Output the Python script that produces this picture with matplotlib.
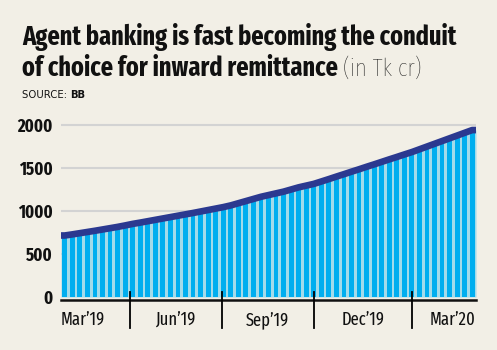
import matplotlib.pyplot as plt
import numpy as np

# weekly inward remittance via agent banking (Tk crore)
values = [715, 728, 742, 756, 770, 785, 800, 815, 832, 850,
          865, 881, 897, 913, 929, 945, 961, 977, 994, 1011, 1028, 1045,
          1065, 1090, 1115, 1140,
          1165, 1185, 1205, 1225, 1250, 1275, 1295, 1315,
          1343, 1371, 1400, 1428, 1457, 1485, 1514, 1542, 1571, 1600, 1628, 1657, 1685,
          1717, 1749, 1781, 1813, 1845, 1877, 1909, 1941]
month_labels = ["Mar\u201919", "Jun\u201919", "Sep\u201919", "Dec\u201919", "Mar\u201920"]
quarter_breaks = [8.6, 20.8, 33.0, 46.0]
yticks = [0, 500, 1000, 1500, 2000]

bg = '#f2efe6'
cond = ['Fira Sans Extra Condensed', 'Fira Sans Condensed', 'DejaVu Sans']
W, H = 497, 350

fig = plt.figure(figsize=(W/100, H/100), dpi=100, facecolor=bg)
ax = fig.add_axes([61/W, 1-300/H, 415/W, 180/H], facecolor=bg)

x = np.arange(len(values))
xx = np.r_[-0.5, x, x[-1]+0.5]
yy = np.r_[values[0], values, values[-1]]
ax.fill_between(xx, 0, yy, color='#a3dbea', lw=0, zorder=1)
ax.bar(x, values, width=0.64, color='#00aeef', lw=0, zorder=2)
ax.plot(xx, yy, color='#2b3990', lw=4.8, solid_capstyle='butt', zorder=3)

ax.set_xlim(-0.5, len(values)-0.5)
ax.set_ylim(-35, 2058)
for v in yticks[1:]:
    ax.axhline(v, color='#d3d3d3', lw=1.5, zorder=0)
ax.set_yticks(yticks)
ax.set_yticklabels([str(v) for v in yticks], family=cond, fontweight='bold',
                   fontsize=13, color='#111111')
ax.tick_params(axis='y', length=0, pad=6)
ax.set_xticks([])
for s in ['top', 'right', 'left']:
    ax.spines[s].set_visible(False)
ax.spines['bottom'].set_linewidth(1.8)
ax.spines['bottom'].set_color('#111111')

# quarter dividers
trans = ax.get_xaxis_transform()
for b in quarter_breaks:
    ax.plot([b, b], [0.045, -0.155], color='black', lw=1.3, transform=trans,
            clip_on=False, zorder=4)

# month labels
edges = [-0.5] + quarter_breaks + [len(values)-0.5]
for i, lab in enumerate(month_labels):
    if i == 0:
        xp, ha = edges[0], 'left'
    elif i == len(month_labels)-1:
        xp, ha = edges[-1], 'right'
    else:
        xp, ha = (edges[i] + edges[i+1]) / 2, 'center'
    ax.text(xp, -0.11, lab, transform=trans, ha=ha, va='center',
            family=cond, fontsize=13, color='#111111')

# title, fitted to the reference width
t1 = fig.text(22/W, 1-45/H, "Agent banking is fast becoming the conduit",
              family=cond, fontweight='bold', fontsize=18, va='baseline', color='#111111')
fig.canvas.draw()
r = fig.canvas.get_renderer()
fs = 18 * 436 / t1.get_window_extent(r).width
t1.set_fontsize(fs)
t2 = fig.text(22/W, 1-76/H, "of choice for inward remittance",
              family=cond, fontweight='bold', fontsize=fs, va='baseline', color='#111111')
fig.canvas.draw()
bb = t2.get_window_extent(r)
fig.text((bb.x1 + 5)/W, 1-76/H, "(in Tk cr)", family=cond, fontweight='light',
         fontsize=fs*0.95, va='baseline', color='#111111')
s = fig.text(22/W, 1-98/H, "SOURCE: ", fontsize=7.3, va='baseline', color='#111111')
fig.canvas.draw()
bb = s.get_window_extent(r)
fig.text(bb.x1/W, 1-98/H, "BB", fontsize=7.3, fontweight='bold', va='baseline', color='#111111')

fig.savefig('out.png', dpi=100, facecolor=bg)
